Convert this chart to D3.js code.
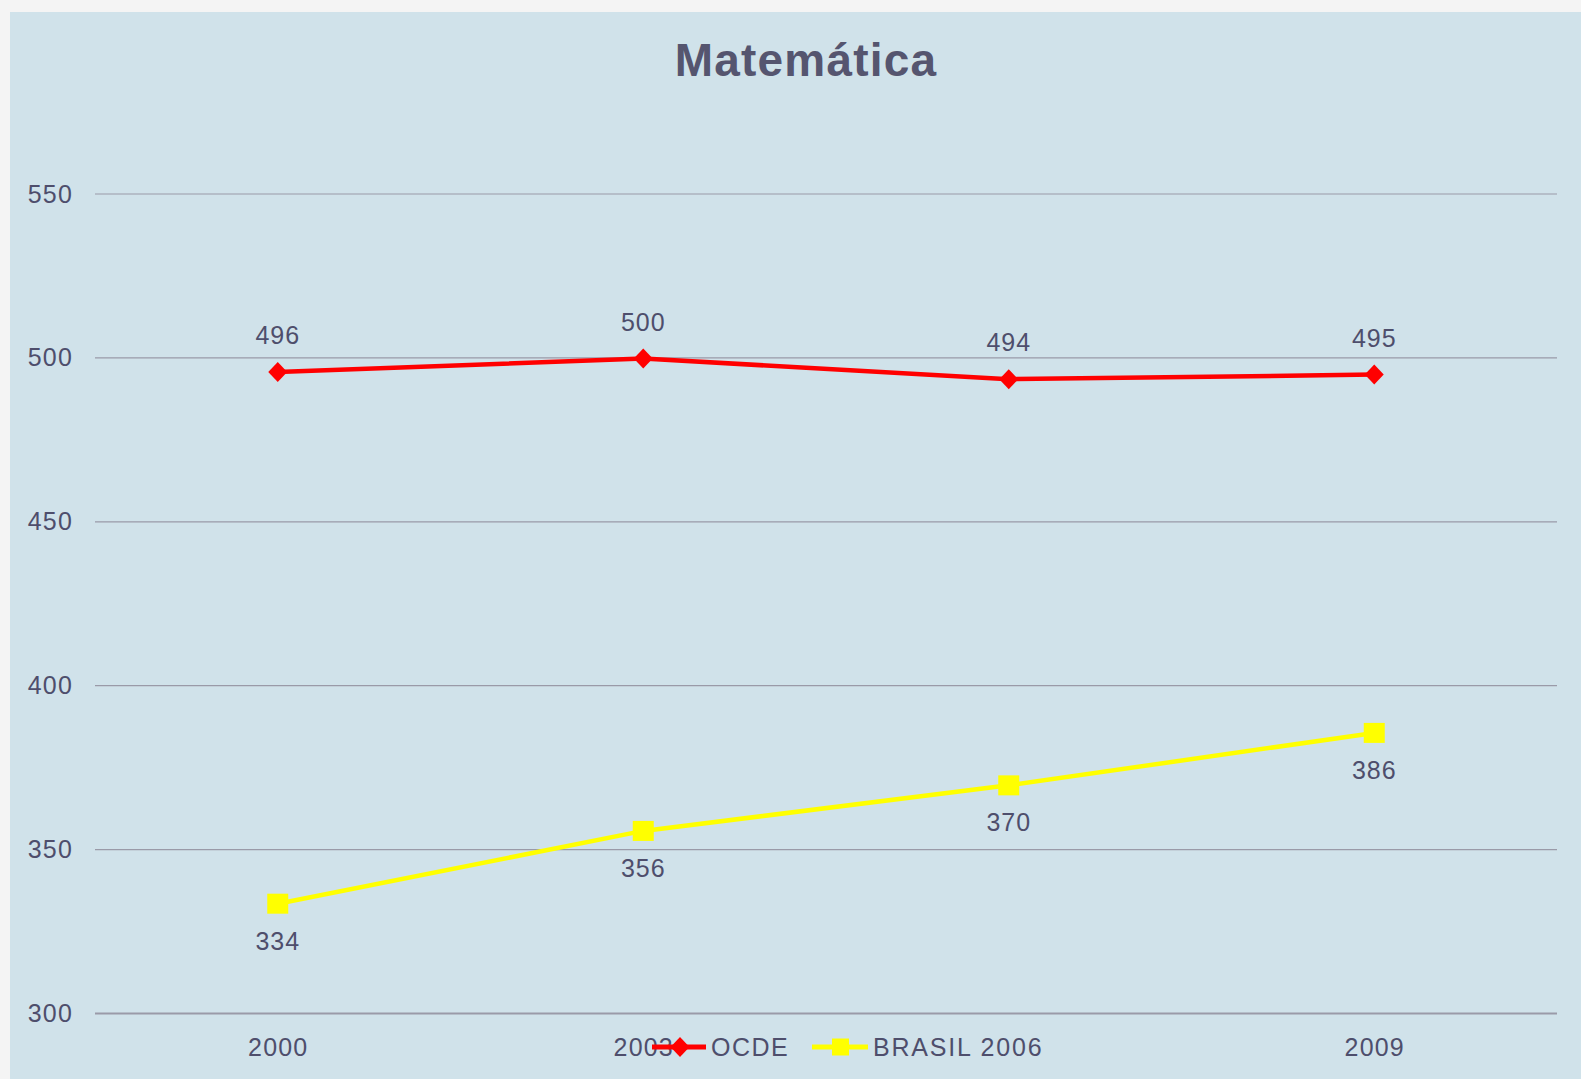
<!DOCTYPE html>
<html>
<head>
<meta charset="utf-8">
<script src="https://cdn.jsdelivr.net/npm/d3@7"></script>
<style>
  body { margin: 0; background: #f3f3f3; }
  svg { display: block; font-family: "Liberation Sans", Arial, sans-serif; }
</style>
</head>
<body>
<div id="chart"></div>
<script>
// data (labels shown rounded)
const years = ["2000", "2003", "2006", "2009"]
const ocde = [495.7, 499.8, 493.5, 494.9]
const brasil = [333.5, 355.7, 369.6, 385.6]
const yTicks = [300, 350, 400, 450, 500, 550]
const seriesNames = ["OCDE", "BRASIL 2006"]

const width = 1581
const height = 1079
const margins = {top: 194, right: 24, bottom: 65, left: 95}
const panelColor = "#d0e2ea"
const textColor = "#4e4e6c"
const fmt = d3.format(".0f")

const svg = d3.select("#chart")
  .append("svg")
  .attr("width", width)
  .attr("height", height)

// backdrop + panel
svg.append("rect")
  .attr("width", width).attr("height", height)
  .attr("fill", "#f4f4f4")
svg.append("rect")
  .attr("x", 10).attr("y", 12)
  .attr("width", width - 10).attr("height", height - 12)
  .attr("fill", panelColor)

const xScale = d3.scalePoint()
  .domain(years)
  .range([margins.left, width - margins.right])
  .padding(0.5)

const yScale = d3.scaleLinear()
  .domain([300, 550])
  .range([height - margins.bottom - 0.5, margins.top])

// gridlines
svg.append("g")
  .selectAll("line")
  .data(yTicks)
  .join("line")
    .attr("x1", margins.left)
    .attr("x2", width - margins.right)
    .attr("y1", d => yScale(d))
    .attr("y2", d => yScale(d))
    .attr("stroke", "#9a9aa8")
    .attr("stroke-width", d => d === 300 ? 2 : 1.2)

// y axis labels
const yAxis = svg.append("g")
  .attr("transform", `translate(${margins.left - 22}, 0)`)
  .call(d3.axisLeft(yScale).tickValues(yTicks).tickSize(0).tickPadding(0))
yAxis.select(".domain").remove()
yAxis.selectAll("text")
  .attr("font-size", 25)
  .attr("letter-spacing", 1.2)
  .attr("font-family", "Liberation Sans, Arial, sans-serif")
  .attr("fill", textColor)

// x axis labels (2006 sits under the legend in the original, so it is hidden)
const xAxis = svg.append("g")
  .attr("transform", `translate(0, ${height - margins.bottom})`)
  .call(d3.axisBottom(xScale).tickSize(0).tickPadding(24)
    .tickFormat(d => d === "2006" ? "" : d))
xAxis.select(".domain").remove()
xAxis.selectAll("text")
  .attr("font-size", 25)
  .attr("letter-spacing", 1.2)
  .attr("font-family", "Liberation Sans, Arial, sans-serif")
  .attr("fill", textColor)

// title
svg.append("text")
  .attr("x", 806)
  .attr("y", 76)
  .attr("text-anchor", "middle")
  .attr("font-size", 46)
  .attr("font-weight", "bold")
  .attr("letter-spacing", 1.2)
  .attr("fill", "#55556f")
  .text("Matemática")

const line = d3.line()
  .x((d, i) => xScale(years[i]))
  .y(d => yScale(d))

const diamond = (cx, cy) => `M${cx},${cy - 10}L${cx + 9.5},${cy}L${cx},${cy + 10}L${cx - 9.5},${cy}Z`

// OCDE series
svg.append("path")
  .datum(ocde)
  .attr("d", line)
  .attr("fill", "none")
  .attr("stroke", "#ff0000")
  .attr("stroke-width", 4.5)
svg.append("g")
  .selectAll("path")
  .data(ocde)
  .join("path")
    .attr("d", (d, i) => diamond(xScale(years[i]), yScale(d)))
    .attr("fill", "#ff0000")
svg.append("g")
  .selectAll("text")
  .data(ocde)
  .join("text")
    .attr("x", (d, i) => xScale(years[i]))
    .attr("y", d => yScale(d) - 28)
    .attr("text-anchor", "middle")
    .attr("font-size", 25)
    .attr("letter-spacing", 1)
    .attr("fill", textColor)
    .text(d => fmt(d))

// BRASIL series
svg.append("path")
  .datum(brasil)
  .attr("d", line)
  .attr("fill", "none")
  .attr("stroke", "#ffff00")
  .attr("stroke-width", 4.5)
svg.append("g")
  .selectAll("rect")
  .data(brasil)
  .join("rect")
    .attr("x", (d, i) => xScale(years[i]) - 10.5)
    .attr("y", d => yScale(d) - 10)
    .attr("width", 21)
    .attr("height", 20)
    .attr("fill", "#ffff00")
svg.append("g")
  .selectAll("text")
  .data(brasil)
  .join("text")
    .attr("x", (d, i) => xScale(years[i]))
    .attr("y", d => yScale(d) + 46)
    .attr("text-anchor", "middle")
    .attr("font-size", 25)
    .attr("letter-spacing", 1)
    .attr("fill", textColor)
    .text(d => fmt(d))

// legend
const legendY = 1047
const legend = svg.append("g")
const ocdeKey = legend.append("g").attr("transform", `translate(652, ${legendY})`)
ocdeKey.append("line")
  .attr("x1", 0).attr("x2", 54)
  .attr("stroke", "#ff0000").attr("stroke-width", 5)
ocdeKey.append("path")
  .attr("d", diamond(28, 0))
  .attr("fill", "#ff0000")
ocdeKey.append("text")
  .attr("x", 59).attr("y", 9)
  .attr("font-size", 25)
  .attr("letter-spacing", 1.5)
  .attr("fill", textColor)
  .text(seriesNames[0])

const brKey = legend.append("g").attr("transform", `translate(812, ${legendY})`)
brKey.append("line")
  .attr("x1", 0).attr("x2", 56)
  .attr("stroke", "#ffff00").attr("stroke-width", 5)
brKey.append("rect")
  .attr("x", 20).attr("y", -8.5)
  .attr("width", 17).attr("height", 17)
  .attr("fill", "#ffff00")
brKey.append("text")
  .attr("x", 61).attr("y", 9)
  .attr("font-size", 25)
  .attr("letter-spacing", 1.8)
  .attr("fill", textColor)
  .text(seriesNames[1])
</script>
</body>
</html>
